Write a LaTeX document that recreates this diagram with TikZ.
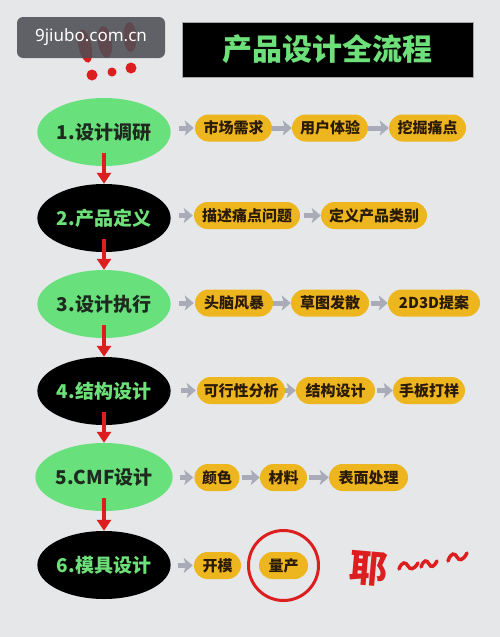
\documentclass[tikz,border=0pt]{standalone}
\usepackage{fontspec}
\setmainfont{Noto Sans CJK SC}
\newfontfamily\cjk{Noto Sans CJK SC}
\newfontfamily\wmfont{Noto Sans}
\usetikzlibrary{arrows.meta,shapes.geometric}
\definecolor{bgc}{HTML}{E6E7E9}
\definecolor{lgreen}{HTML}{68E07C}
\definecolor{tgreen}{HTML}{6EE07A}
\definecolor{darktext}{HTML}{1E2A1E}
\definecolor{pillc}{HTML}{EDB51E}
\definecolor{pilltext}{HTML}{2A1A08}
\definecolor{garrowc}{HTML}{A9ABB9}
\definecolor{redc}{HTML}{DC1E1E}
\definecolor{wmc}{HTML}{4E4F55}
\tikzset{
  stepG/.style={ellipse, fill=lgreen, minimum width=124, minimum height=68, inner sep=0,
    font=\cjk\bfseries\fontsize{19}{19}\selectfont, text=darktext},
  stepB/.style={ellipse, fill=black, minimum width=124, minimum height=68, inner sep=0,
    font=\cjk\bfseries\fontsize{19}{19}\selectfont, text=tgreen},
  pill/.style={rectangle, rounded corners=13.5, fill=pillc, minimum height=27, inner sep=0,
    font=\cjk\bfseries\fontsize{15}{15}\selectfont, text=pilltext},
  garrow/.style={draw=garrowc, line width=5, -{Stealth[length=9,width=15,inset=2]}},
  rarrow/.style={draw=redc, line width=4.5, -{Triangle[length=11,width=14]}},
  tilde/.style={draw=redc, line width=3.5, line cap=round},
}
\begin{document}
\begin{tikzpicture}[x=1pt,y=-1pt]
\fill[bgc] (0,0) rectangle (500,637);
\useasboundingbox (0,0) rectangle (500,637);
% red exclamation marks behind watermark
\fill[redc] (85,46) ellipse[x radius=6.5, y radius=17, rotate=12];
\fill[redc] (105,42) ellipse[x radius=7, y radius=16, rotate=8];
\fill[redc] (130,37) ellipse[x radius=6.5, y radius=15, rotate=3];
\fill[redc] (92,75) circle (5.5);
\fill[redc] (112,72) circle (4.5);
\fill[redc] (131,68) circle (5.5);
% watermark
\node[fill=wmc, fill opacity=0.88, text opacity=1, rounded corners=6, minimum width=148, minimum height=41,
  inner sep=0, text=white, font=\wmfont\fontsize{17}{17}\selectfont] (wm) at (91,37.5) {9jiubo.com.cn};
% title
\node[fill=black, draw=gray!70, line width=0.8, minimum width=291, minimum height=55, inner sep=0,
  text=tgreen, font=\cjk\bfseries\fontsize{30}{30}\selectfont] (title) at (327.5,49.5) {产品设计全流程};
% main steps
\node[stepG] (s1) at (104,132) {1.设计调研};
\node[stepB] (s2) at (104,218) {2.产品定义};
\node[stepG] (s3) at (104,304) {3.设计执行};
\node[stepB] (s4) at (104,391) {4.结构设计};
\node[stepG] (s5) at (104,477) {5.CMF设计};
\node[stepB] (s6) at (104,565) {6.模具设计};
% red arrows
\draw[rarrow] ([yshift=13pt]s1.south) -- (s2.north);
\draw[rarrow] ([yshift=13pt]s2.south) -- (s3.north);
\draw[rarrow] ([yshift=13pt]s3.south) -- (s4.north);
\draw[rarrow] ([yshift=13pt]s4.south) -- (s5.north);
\draw[rarrow] ([yshift=13pt]s5.south) -- (s6.north);
% row 1
\node[pill, minimum width=77] (p11) at (233.5,128) {市场需求};
\node[pill, minimum width=76] (p12) at (330,128) {用户体验};
\node[pill, minimum width=77] (p13) at (427.5,128) {挖掘痛点};
% row 2
\node[pill, minimum width=106] (p21) at (247,215.5) {描述痛点问题};
\node[pill, minimum width=106] (p22) at (374,215.5) {定义产品类别};
% row 3
\node[pill, minimum width=78] (p31) at (234,303) {头脑风暴};
\node[pill, minimum width=78] (p32) at (330,303) {草图发散};
\node[pill, minimum width=92] (p33) at (434,303) {2D3D提案};
% row 4
\node[pill, minimum width=88] (p41) at (241,390.5) {可行性分析};
\node[pill, minimum width=79] (p42) at (335.5,390.5) {结构设计};
\node[pill, minimum width=72] (p43) at (429,390.5) {手板打样};
% row 5
\node[pill, minimum width=45] (p51) at (217,477.5) {颜色};
\node[pill, minimum width=47] (p52) at (283.5,477.5) {材料};
\node[pill, minimum width=79] (p53) at (368.5,477.5) {表面处理};
% row 6
\node[pill, minimum width=47] (p61) at (217.5,565.5) {开模};
\node[pill, minimum width=49] (p62) at (283.5,565.5) {量产};
% gray arrows
\draw[garrow] ([xshift=8pt]s1.east |- p11) -- ([xshift=-1pt]p11.west);
\draw[garrow] (p11.east) -- (p12.west);
\draw[garrow] (p12.east) -- (p13.west);
\draw[garrow] ([xshift=8pt]s2.east |- p21) -- ([xshift=-1pt]p21.west);
\draw[garrow] ([xshift=4pt]p21.east) -- (p22.west);
\draw[garrow] ([xshift=8pt]s3.east |- p31) -- ([xshift=-1pt]p31.west);
\draw[garrow] (p31.east) -- (p32.west);
\draw[garrow] ([xshift=2pt]p32.east) -- (p33.west);
\draw[garrow] ([xshift=10pt]s4.east |- p41) -- ([xshift=-1pt]p41.west);
\draw[garrow] (p41.east) -- (p42.west);
\draw[garrow] ([xshift=2pt]p42.east) -- (p43.west);
\draw[garrow] ([xshift=7pt]s5.east |- p51) -- ([xshift=-1pt]p51.west);
\draw[garrow] ([xshift=2pt]p51.east) -- (p52.west);
\draw[garrow] ([xshift=2pt]p52.east) -- (p53.west);
\draw[garrow] ([xshift=7pt]s6.east |- p61) -- ([xshift=-1pt]p61.west);
% red circle round 量产
\draw[redc, line width=3] (p62) circle (35);
% handwritten ye
\node[text=redc, font=\cjk\bfseries\fontsize{38}{38}\selectfont, inner sep=0, rotate=-5] (ye) at (369,569) {耶};
\draw[tilde] (399,569) .. controls (402,561) and (406,562) .. (408,566) .. controls (410,570) and (414,570) .. (418,563);
\draw[tilde] (421,567) .. controls (424,559) and (427,560) .. (429,564) .. controls (431,568) and (434,567) .. (437,561);
\draw[tilde] (448,561) .. controls (451,552) and (455,553) .. (457,557) .. controls (459,561) and (463,561) .. (467,553);
\end{tikzpicture}
\end{document}
